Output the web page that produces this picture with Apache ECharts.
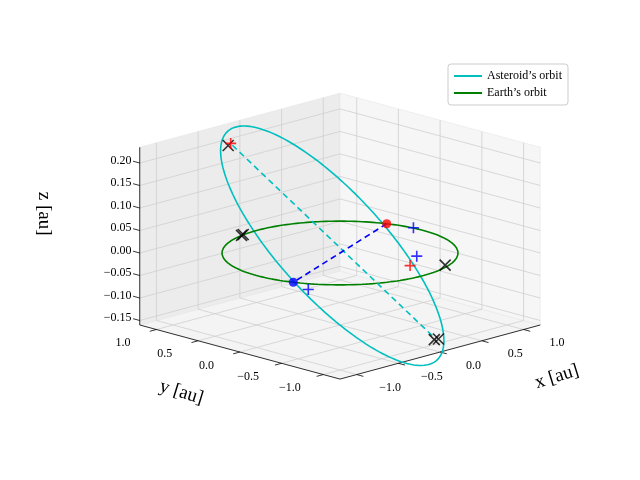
<!DOCTYPE html>
<html><head><meta charset="utf-8">
<script src="https://cdn.jsdelivr.net/npm/echarts@6/dist/echarts.min.js"></script>
<style>html,body{margin:0;padding:0;background:#fff}#c{width:640px;height:480px}</style>
</head><body><div id="c"></div>
<script>
// axis ticks and limits
var xTicks = [-1.0, -0.5, 0.0, 0.5, 1.0];
var yTicks = [-1.0, -0.5, 0.0, 0.5, 1.0];
var zTicks = [-0.15, -0.10, -0.05, 0.00, 0.05, 0.10, 0.15, 0.20];
var xLim = [-1.2, 1.2], yLim = [-1.2, 1.2], zLim = [-0.16, 0.235];

// orbits: earth radius, asteroid semi-major axis / eccentricity, perihelion & node directions
var earthRadius = 1.0;
var asteroidA = 0.97, asteroidE = 0.07;
var perihelionDir = [0.5, -0.63, -0.19];
var nodeDir = [0.93, 0.37, 0];

// marker positions
var crossPts = [[-0.58, 0.76, 0.23], [-0.17, 0.99, 0], [-0.2, 0.98, 0], [0.36, -0.9, 0], [0.49, -0.64, -0.185], [0.53, -0.65, -0.185]];
var redPlusPts = [[-0.52, 0.79, 0.23], [0.14, -0.7, 0]];
var bluePlusPts = [[1.0, 0.12, 0], [0.39, -0.53, 0], [-1.0, -0.62, 0]];
var redDot = [0.93, 0.37, 0], blueDot = [-0.93, -0.37, 0];
var apsides = [[-0.55, 0.74, 0.23], [0.51, -0.64, -0.185]];

var S = 118, K = 0.27, Z = 450, CX = 340, CY = 253;
function proj(p) {
	return [CX + S * (p[0] - p[1]) * 0.7071, CY - (S * K * (p[0] + p[1]) * 0.7071 + Z * p[2])];
}

function norm(v) { var l = Math.hypot(v[0], v[1], v[2]); return [v[0] / l, v[1] / l, v[2] / l]; }
var ph = norm(perihelionDir);
var nn = norm(nodeDir);
var d = nn[0] * ph[0] + nn[1] * ph[1] + nn[2] * ph[2];
var qh = norm([nn[0] - d * ph[0], nn[1] - d * ph[1], nn[2] - d * ph[2]]);

var earthLine = [], asteroidLine = [];
for (var i = 0; i <= 200; i++) {
	var t = i / 200 * 2 * Math.PI;
	earthLine.push(proj([earthRadius * Math.cos(t), earthRadius * Math.sin(t), 0]));
	var r = asteroidA * (1 - asteroidE * asteroidE) / (1 + asteroidE * Math.cos(t));
	asteroidLine.push(proj([r * (Math.cos(t) * ph[0] + Math.sin(t) * qh[0]),
		r * (Math.cos(t) * ph[1] + Math.sin(t) * qh[1]),
		r * (Math.cos(t) * ph[2] + Math.sin(t) * qh[2])]));
}

var FONT = 'Liberation Serif';
function fmt(v, n) { return (v < 0 ? '\u2212' : '') + Math.abs(v).toFixed(n); }

// box: panes, grid lines, ticks, labels
function boxItem(params, api) {
	var ch = [];
	function c(p) { return api.coord(proj(p)); }
	function poly(ps, fill) {
		ch.push({ type: 'polygon', shape: { points: ps.map(c) }, style: { fill: fill, stroke: '#e6e6e6', lineWidth: 0.6 } });
	}
	function seg(a, b, col, w) {
		var A = c(a), B = c(b);
		ch.push({ type: 'line', shape: { x1: A[0], y1: A[1], x2: B[0], y2: B[1] }, style: { stroke: col, lineWidth: w } });
	}
	function txt(p, s, align, size, rot) {
		var P = c(p);
		ch.push({ type: 'text', x: P[0], y: P[1], rotation: rot || 0,
			style: { text: s, fill: '#000', font: (size || 12) + 'px "' + FONT + '"', align: align || 'center', verticalAlign: 'middle' } });
	}
	var x0 = xLim[0], x1 = xLim[1], y0 = yLim[0], y1 = yLim[1], z0 = zLim[0], z1 = zLim[1];
	poly([[x0, y0, z0], [x1, y0, z0], [x1, y1, z0], [x0, y1, z0]], '#f4f4f4');
	poly([[x0, y1, z0], [x1, y1, z0], [x1, y1, z1], [x0, y1, z1]], '#ececec');
	poly([[x1, y0, z0], [x1, y1, z0], [x1, y1, z1], [x1, y0, z1]], '#f6f6f6');
	var g = '#cfcfcf';
	xTicks.forEach(function (v) {
		seg([v, y0, z0], [v, y1, z0], g, 0.8); seg([v, y1, z0], [v, y1, z1], g, 0.8);
		seg([v, y0, z0], [v, y0 - 0.08, z0], '#000', 0.8);
		txt([v, y0 - 0.4, z0 - 0.01], fmt(v, 1));
	});
	yTicks.forEach(function (v) {
		seg([x0, v, z0], [x1, v, z0], g, 0.8); seg([x1, v, z0], [x1, v, z1], g, 0.8);
		seg([x0, v, z0], [x0 - 0.08, v, z0], '#000', 0.8);
		txt([x0 - 0.4, v, z0 - 0.01], fmt(v, 1));
	});
	zTicks.forEach(function (v) {
		seg([x0, y1, v], [x1, y1, v], g, 0.8); seg([x1, y1, v], [x1, y0, v], g, 0.8);
		seg([x0, y1, v], [x0, y1 + 0.08, v], '#000', 0.8);
		txt([x0, y1 + 0.1, v], fmt(v, 2), 'right');
	});
	seg([x0, y0, z0], [x1, y0, z0], '#000', 0.8);
	seg([x0, y0, z0], [x0, y1, z0], '#000', 0.8);
	seg([x0, y1, z0], [x0, y1, z1], '#000', 0.8);
	txt([0.45, y0 - 0.95, z0 - 0.03], 'x [au]', 'center', 19, 0.3);
	txt([x0 - 0.95, -0.25, z0 - 0.03], 'y [au]', 'center', 19, -0.3);
	txt([x0, y1 + 1.15, 0.03], 'z [au]', 'center', 19, -Math.PI / 2);
	return { type: 'group', children: ch };
}

var X = 'path://M0,0L10,10M10,0L0,10';
var P = 'path://M5,0L5,10M0,5L10,5';
function markers(pts, sym, col, size) {
	return { type: 'scatter', data: pts.map(proj), symbol: sym, symbolSize: size,
		itemStyle: { color: 'none', borderColor: col, borderWidth: 1.6 }, z: 5, silent: true };
}

var chart = echarts.init(document.getElementById('c'));
chart.setOption({
	animation: false,
	grid: { left: 0, right: 0, top: 0, bottom: 0 },
	xAxis: { type: 'value', min: 0, max: 640, show: false },
	yAxis: { type: 'value', min: 0, max: 480, inverse: true, show: false },
	legend: {
		right: 72, top: 64, orient: 'vertical', itemGap: 5, itemWidth: 28, itemHeight: 2,
		icon: 'rect', padding: [6, 6], borderColor: '#ccc', borderWidth: 1, borderRadius: 3,
		backgroundColor: '#fff', textStyle: { fontFamily: FONT, fontSize: 12, color: '#000' },
		data: ["Asteroid\u2019s orbit", "Earth\u2019s orbit"]
	},
	series: [
		{ type: 'custom', renderItem: boxItem, data: [0], silent: true, z: 0 },
		{ name: "Asteroid\u2019s orbit", type: 'line', data: asteroidLine, showSymbol: false, color: '#00bfbf', lineStyle: { width: 1.6 }, z: 3 },
		{ name: "Earth\u2019s orbit", type: 'line', data: earthLine, showSymbol: false, color: '#008000', lineStyle: { width: 1.6 }, z: 3 },
		{ type: 'line', data: apsides.map(proj), showSymbol: false, lineStyle: { color: '#00bfbf', type: [6, 4], width: 1.6 }, z: 3 },
		{ type: 'line', data: [redDot, blueDot].map(proj), showSymbol: false, lineStyle: { color: '#0000ff', type: [6, 4], width: 1.6 }, z: 3 },
		{ type: 'scatter', data: [proj(redDot)], symbolSize: 9, itemStyle: { color: '#ff0000' }, z: 6 },
		{ type: 'scatter', data: [proj(blueDot)], symbolSize: 9, itemStyle: { color: '#0000ff' }, z: 6 },
		markers(crossPts, X, '#000', 11),
		markers(redPlusPts, P, '#ff0000', 11),
		markers(bluePlusPts, P, '#0000ff', 11)
	]
});
</script>
</body></html>
